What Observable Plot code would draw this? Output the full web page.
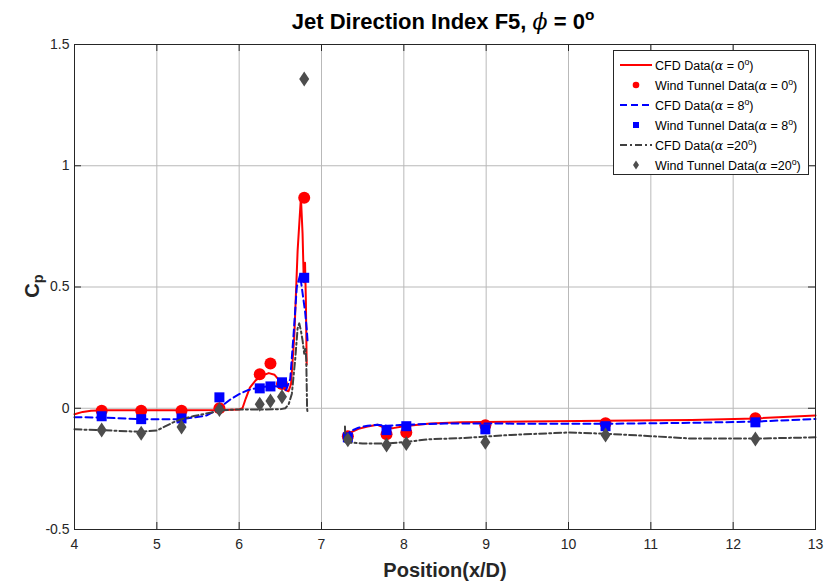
<!DOCTYPE html>
<html>
<head>
<meta charset="utf-8">
<script src="https://cdn.jsdelivr.net/npm/d3@7"></script>
<script src="https://cdn.jsdelivr.net/npm/@observablehq/plot@0.6"></script>
<style>
  html, body { margin: 0; padding: 0; background: #fff; }
  #wrap { position: relative; width: 827px; height: 584px; font-family: "Liberation Sans", Arial, Helvetica, sans-serif; color: #000; }
  #chart { position: absolute; left: 0; top: 0; }
  .lbl { position: absolute; white-space: nowrap; transform: translate(-50%, -50%); }
  .title { font-size: 22px; font-weight: bold; }
  .axlab { font-size: 20px; font-weight: bold; color: #262626; }
  .greek { font-family: "DejaVu Serif", "Liberation Serif", serif; font-style: italic; font-weight: normal; }
  sup { font-size: 0.7em; vertical-align: 0.6em; line-height: 0; }
  sub { font-size: 0.72em; vertical-align: -0.3em; line-height: 0; }
  #legend { position: absolute; left: 613px; top: 50px; width: 194px; height: 123px; border: 1px solid #262626; background: #fff; }
  .row { position: absolute; left: 0; height: 20px; display: flex; align-items: center; font-size: 12.5px; color: #000; white-space: nowrap; }
  .row svg { flex: none; }
</style>
</head>
<body>
<div id="wrap">
  <div id="chart"></div>
  <div class="lbl title" style="left:443px; top:22px;">Jet Direction Index F5, <span class="greek">ϕ</span> = 0<sup>o</sup></div>
  <div class="lbl axlab" style="left:445px; top:570px;">Position(x/D)</div>
  <div class="lbl axlab" style="left:32px; top:286px; transform: translate(-50%, -50%) rotate(-90deg);">C<sub>p</sub></div>
  <div id="legend"></div>
</div>
<script>
// Axis ticks
const xTicks = [4, 5, 6, 7, 8, 9, 10, 11, 12, 13];
const yTicks = [-0.5, 0, 0.5, 1, 1.5];

// Wind tunnel measurement stations (x/D) and pressure coefficients
const wtX    = [4.33, 4.81, 5.30, 5.76, 6.25, 6.38, 6.52, 6.79, 7.32, 7.79, 8.03, 8.99, 10.45, 12.27];
const wtCp0  = [-0.010, -0.010, -0.010, 0.000, 0.140, 0.185, 0.100, 0.868, -0.115, -0.107, -0.100, -0.070, -0.062, -0.041];
const wtCp8  = [-0.033, -0.045, -0.042, 0.045, 0.082, 0.090, 0.107, 0.538, -0.120, -0.090, -0.074, -0.087, -0.074, -0.058];
const wtCp20 = [-0.090, -0.103, -0.077, -0.005, 0.016, 0.030, 0.047, 1.358, -0.130, -0.152, -0.145, -0.140, -0.110, -0.127];

// CFD surface distributions (null separates the two surface segments)
const cfd0X = [4.00, 4.10, 4.20, 4.35, 4.80, 5.30, 5.80, 6.00, 6.04, 6.08, 6.13, 6.20, 6.28, 6.36, 6.43, 6.50, 6.56, 6.60, 6.63, 6.67, 6.71, 6.75, 6.77, 6.785, 6.80, 6.81, 6.82, null,
               7.29, 7.35, 7.45, 7.56, 7.68, 7.76, 7.87, 8.00, 8.32, 8.70, 9.50, 10.45, 11.50, 12.27, 13.00];
const cfd0Y = [-0.025, -0.015, -0.010, -0.008, -0.008, -0.008, -0.007, -0.005, 0.000, 0.040, 0.085, 0.115, 0.135, 0.145, 0.138, 0.110, 0.075, 0.070, 0.100, 0.300, 0.650, 0.870, 0.720, 0.520, 0.600, 0.450, 0.180, null,
               -0.120, -0.100, -0.085, -0.075, -0.068, -0.080, -0.082, -0.074, -0.063, -0.058, -0.055, -0.052, -0.048, -0.042, -0.030];

const cfd8X = [4.00, 4.30, 4.80, 5.30, 5.45, 5.60, 5.70, 5.80, 5.90, 6.00, 6.10, 6.20, 6.30, 6.40, 6.50, 6.57, 6.62, 6.66, 6.70, 6.74, 6.76, 6.78, 6.80, 6.82, 6.83, null,
               7.29, 7.35, 7.45, 7.56, 7.68, 7.80, 8.00, 8.50, 9.00, 9.70, 10.45, 11.50, 12.27, 13.00];
const cfd8Y = [-0.037, -0.038, -0.045, -0.045, -0.038, -0.030, -0.012, 0.012, 0.038, 0.058, 0.074, 0.082, 0.088, 0.092, 0.088, 0.075, 0.120, 0.300, 0.500, 0.550, 0.500, 0.450, 0.400, 0.330, 0.280, null,
               -0.120, -0.095, -0.080, -0.072, -0.068, -0.072, -0.068, -0.063, -0.063, -0.064, -0.064, -0.060, -0.055, -0.044];

const cfd20X = [4.00, 4.30, 4.80, 5.00, 5.10, 5.20, 5.30, 5.45, 5.60, 5.70, 5.80, 6.00, 6.30, 6.50, 6.56, 6.60, 6.64, 6.68, 6.71, 6.73, 6.75, 6.77, 6.79, 6.805, 6.815, 6.825, 6.83, null,
                7.285, 7.29, 7.50, 7.80, 8.00, 8.30, 8.70, 9.30, 10.00, 10.45, 11.00, 11.50, 12.27, 13.00];
const cfd20Y = [-0.087, -0.090, -0.097, -0.092, -0.075, -0.058, -0.045, -0.032, -0.022, -0.015, -0.008, -0.005, -0.005, -0.004, 0.000, 0.015, 0.060, 0.200, 0.330, 0.350, 0.320, 0.280, 0.225, 0.250, 0.200, 0.000, -0.015, null,
                -0.075, -0.140, -0.145, -0.145, -0.140, -0.128, -0.123, -0.110, -0.100, -0.105, -0.115, -0.125, -0.125, -0.120];

// Series styling
const red = "#ff0000", blue = "#0000ff", lineGray = "#404040", markGray = "#4d4d4d";
const dashStyle = "7,4", dashDotStyle = "7,3,2,3";

const pts = (xs, ys) => xs.map((x, i) => ({x, y: ys[i]}));

// Marker shapes sized from the dot radius
const squareSym = {draw(ctx, size) {
  const s = Math.sqrt(size / Math.PI);
  ctx.moveTo(-s, -s); ctx.lineTo(s, -s); ctx.lineTo(s, s); ctx.lineTo(-s, s); ctx.closePath();
}};
const diamondSym = {draw(ctx, size) {
  const s = Math.sqrt(size / Math.PI);
  ctx.moveTo(0, -1.5 * s); ctx.lineTo(s, 0); ctx.lineTo(0, 1.5 * s); ctx.lineTo(-s, 0); ctx.closePath();
}};

const W = 827, H = 584, mL = 74, mR = 12, mT = 44, mB = 55;
const innerW = W - mL - mR, innerH = H - mT - mB, tickLen = 7;

const chart = Plot.plot({
  width: W, height: H,
  marginLeft: mL, marginRight: mR, marginTop: mT, marginBottom: mB,
  x: {domain: [4, 13]},
  y: {domain: [-0.5, 1.5]},
  style: {fontFamily: "'Liberation Sans', Arial, Helvetica, sans-serif", fontSize: "14px", color: "#262626", background: "white", overflow: "visible"},
  marks: [
    Plot.gridX(xTicks, {stroke: "#b9b9b9", strokeOpacity: 1}),
    Plot.gridY(yTicks, {stroke: "#b9b9b9", strokeOpacity: 1}),

    Plot.line(pts(cfd0X, cfd0Y), {x: "x", y: "y", stroke: red, strokeWidth: 2}),
    Plot.dot(pts(wtX, wtCp0), {x: "x", y: "y", r: 6, fill: red}),

    Plot.line(pts(cfd8X, cfd8Y), {x: "x", y: "y", stroke: blue, strokeWidth: 2, strokeDasharray: dashStyle}),
    Plot.dot(pts(wtX, wtCp8), {x: "x", y: "y", r: 5, fill: blue, symbol: squareSym}),

    Plot.line(pts(cfd20X, cfd20Y), {x: "x", y: "y", stroke: lineGray, strokeWidth: 2, strokeDasharray: dashDotStyle}),
    Plot.dot(pts(wtX, wtCp20), {x: "x", y: "y", r: 5, fill: markGray, symbol: diamondSym}),

    Plot.frame({stroke: "#262626", strokeWidth: 1}),

    // inward-pointing ticks on all four sides
    Plot.ruleX(xTicks, {x: d => d, insetTop: innerH - tickLen, stroke: "#262626"}),
    Plot.ruleX(xTicks, {x: d => d, insetBottom: innerH - tickLen, stroke: "#262626"}),
    Plot.ruleY(yTicks, {y: d => d, insetRight: innerW - tickLen, stroke: "#262626"}),
    Plot.ruleY(yTicks, {y: d => d, insetLeft: innerW - tickLen, stroke: "#262626"}),

    Plot.axisX(xTicks, {tickSize: 0, tickPadding: 10, label: null, tickFormat: d => String(d), fill: "#262626"}),
    Plot.axisY(yTicks, {tickSize: 0, tickPadding: 5, label: null, tickFormat: d => String(d), fill: "#262626"})
  ]
});
document.getElementById("chart").appendChild(chart);

// Legend entries
const legendItems = [
  {text: 'CFD Data(<span class="greek">α</span> = 0<sup>o</sup>)', kind: "line", color: red, dash: null},
  {text: 'Wind Tunnel Data(<span class="greek">α</span> = 0<sup>o</sup>)', kind: "circle", color: red},
  {text: 'CFD Data(<span class="greek">α</span> = 8<sup>o</sup>)', kind: "line", color: blue, dash: dashStyle},
  {text: 'Wind Tunnel Data(<span class="greek">α</span> = 8<sup>o</sup>)', kind: "square", color: blue},
  {text: 'CFD Data(<span class="greek">α</span> =20<sup>o</sup>)', kind: "line", color: lineGray, dash: dashDotStyle},
  {text: 'Wind Tunnel Data(<span class="greek">α</span> =20<sup>o</sup>)', kind: "diamond", color: markGray}
];
const legend = d3.select("#legend");
legendItems.forEach((it, i) => {
  const row = legend.append("div").attr("class", "row").style("top", (4 + i * 20) + "px");
  const svg = row.append("svg").attr("width", 40).attr("height", 20);
  if (it.kind === "line") {
    svg.append("line").attr("x1", 6).attr("x2", 38).attr("y1", 10).attr("y2", 10)
      .attr("stroke", it.color).attr("stroke-width", 2).attr("stroke-dasharray", it.dash);
  } else if (it.kind === "circle") {
    svg.append("circle").attr("cx", 22).attr("cy", 10).attr("r", 3.3).attr("fill", it.color);
  } else if (it.kind === "square") {
    svg.append("rect").attr("x", 19).attr("y", 7).attr("width", 6).attr("height", 6).attr("fill", it.color);
  } else {
    svg.append("path").attr("d", "M22,5.5L25,10L22,14.5L19,10Z").attr("fill", it.color);
  }
  row.append("span").style("margin-left", "1px").html(it.text);
});
</script>
</body>
</html>
